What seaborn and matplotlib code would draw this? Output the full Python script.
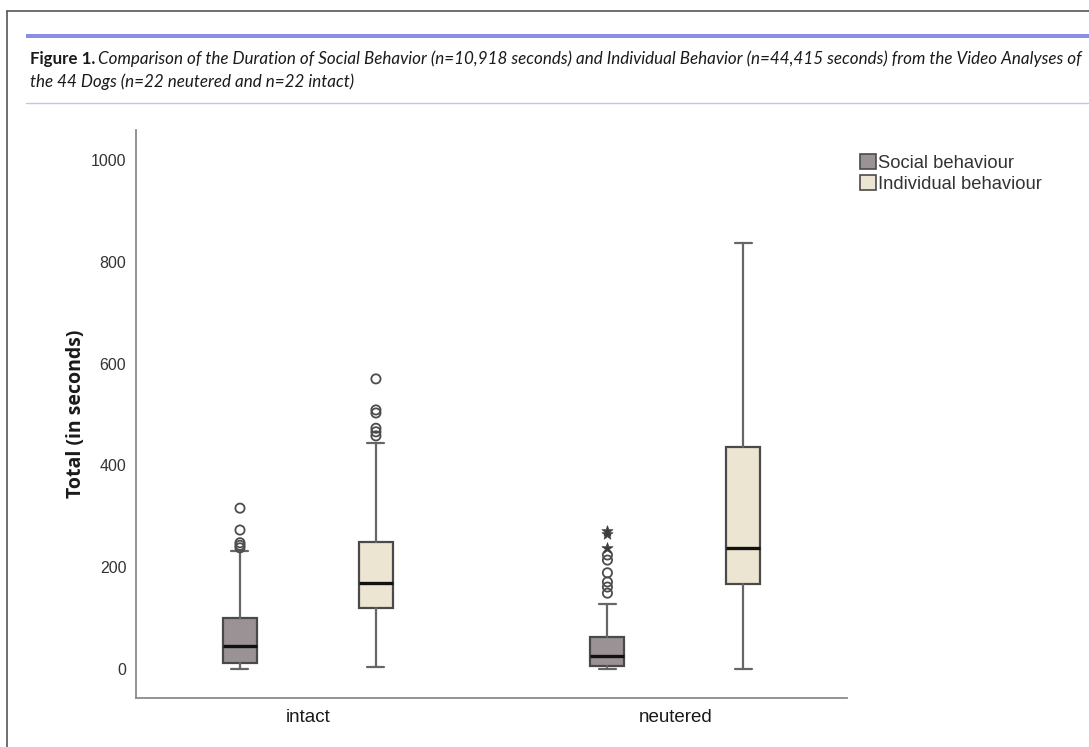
import matplotlib
matplotlib.use("Agg")
import matplotlib.pyplot as plt
from matplotlib.patches import Patch, Rectangle
from matplotlib.lines import Line2D
import pandas as pd
import seaborn as sns

# ---- data (seconds) -------------------------------------------------------
groups = ["intact", "neutered"]
behaviours = ["Social behaviour", "Individual behaviour"]

social_low = [0, 0]
social_q1 = [11, 6]
social_median = [45, 26]
social_q3 = [100, 63]
social_high = [232, 128]
social_outliers = [[238, 243, 248, 273, 316], [149, 161, 171, 189, 214, 224]]
social_extremes = [[], [238, 265, 271]]

individual_low = [4, 0]
individual_q1 = [120, 167]
individual_median = [169, 238]
individual_q3 = [250, 436]
individual_high = [445, 837]
individual_outliers = [[458, 466, 473, 503, 509, 570], []]
individual_extremes = [[], []]

y_ticks = [0, 200, 400, 600, 800, 1000]

caption_bold = "Figure 1."
caption_line1 = ("Comparison of the Duration of Social Behavior (n=10,918 seconds) and "
                 "Individual Behavior (n=44,415 seconds) from the Video Analyses of")
caption_line2 = "the 44 Dogs (n=22 neutered and n=22 intact)"

# ---- style ---------------------------------------------------------------
sns.set_style("white")
plt.rcParams["font.family"] = ["Liberation Sans", "DejaVu Sans"]

W, H = 1089, 747
fig = plt.figure(figsize=(W / 100, H / 100), dpi=100)
fig.patch.set_facecolor("white")


def fx(px):
    return px / W


def fy(py):
    return 1 - py / H


# page frame, accent rule and caption
fig.add_artist(Line2D([fx(7), fx(7)], [fy(11), fy(747)], color="#555555", lw=1.2))
fig.add_artist(Line2D([fx(7), fx(1089)], [fy(11), fy(11)], color="#555555", lw=1.2))
fig.add_artist(Rectangle((fx(26), fy(38)), fx(1089) - fx(26), fy(34) - fy(38),
                         transform=fig.transFigure, color="#8c8ce6", lw=0))
fig.add_artist(Line2D([fx(26), fx(1089)], [fy(103), fy(103)], color="#c4c4ea", lw=1.0))

cap_font = ["Lato", "DejaVu Sans"]
t_bold = fig.text(fx(30), fy(59), caption_bold, fontsize=10, fontweight="bold",
                  family=cap_font, va="center", ha="left", color="#1a1a1a")
t_it1 = fig.text(fx(108), fy(59), caption_line1, fontsize=10, style="italic",
                 family=cap_font, va="center", ha="left", color="#1a1a1a")
fig.canvas.draw()
r = fig.canvas.get_renderer()
w_it = t_it1.get_window_extent(r).width
size = 10 * (1083 - 108) / w_it
t_it1.set_fontsize(size)
t_bold.set_fontsize(size)
fig.canvas.draw()
w_b = t_bold.get_window_extent(r).width
t_it1.set_x(fx(30 + w_b + 3))
w_it = t_it1.get_window_extent(r).width
t_it1.set_fontsize(size * (1083 - (30 + w_b + 3)) / w_it)
fig.text(fx(30), fy(82), caption_line2, fontsize=t_it1.get_fontsize(), style="italic",
         family=cap_font, va="center", ha="left", color="#1a1a1a")

# ---- box plot ------------------------------------------------------------
ax = fig.add_axes([fx(136), fy(698), fx(847) - fx(136), fy(130) - fy(698)])

offset = 0.185
box_w = 0.0925
fills = {"Social behaviour": "#9a9294", "Individual behaviour": "#ece5d1"}

summaries = {
    "Social behaviour": (social_low, social_q1, social_median, social_q3, social_high,
                         social_outliers, social_extremes),
    "Individual behaviour": (individual_low, individual_q1, individual_median,
                             individual_q3, individual_high, individual_outliers,
                             individual_extremes),
}

stats, positions, colours, flier_rows = [], [], [], []
for gi, g in enumerate(groups):
    for bi, b in enumerate(behaviours):
        lo, q1, med, q3, hi, outs, extr = summaries[b]
        pos = gi + (-offset if bi == 0 else offset)
        stats.append(dict(whislo=lo[gi], q1=q1[gi], med=med[gi], q3=q3[gi],
                          whishi=hi[gi], fliers=[]))
        positions.append(pos)
        colours.append(fills[b])
        for v in outs[gi]:
            flier_rows.append(dict(pos=pos, value=v, kind="outlier"))
        for v in extr[gi]:
            flier_rows.append(dict(pos=pos, value=v, kind="extreme"))

edge = "#4a4a4a"
bp = ax.bxp(stats, positions=positions, widths=box_w, capwidths=box_w / 2,
            patch_artist=True, showfliers=False,
            boxprops=dict(edgecolor=edge, linewidth=1.6),
            whiskerprops=dict(color="#666666", linewidth=1.6),
            capprops=dict(color="#666666", linewidth=1.6),
            medianprops=dict(color="#111111", linewidth=2.4))
for patch, c in zip(bp["boxes"], colours):
    patch.set_facecolor(c)

fliers = pd.DataFrame(flier_rows)
sns.scatterplot(data=fliers[fliers["kind"] == "outlier"], x="pos", y="value", ax=ax,
                marker="o", s=44, facecolor="none", edgecolor="#4d4d4d",
                linewidth=1.3, legend=False, zorder=3)
sns.scatterplot(data=fliers[fliers["kind"] == "extreme"], x="pos", y="value", ax=ax,
                marker="*", s=70, color="#3d3d3d", edgecolor="#3d3d3d",
                linewidth=0.5, legend=False, zorder=3)

ax.set_xlim(-0.468, 1.467)
ax.set_ylim(-57, 1059)
ax.set_xticks(range(len(groups)))
ax.set_xticklabels(groups, fontsize=13.5, color="#1a1a1a")
ax.set_yticks(y_ticks)
ax.set_yticklabels([str(t) for t in y_ticks], fontsize=11.5, color="#333333")
ax.tick_params(axis="both", length=0)
ax.tick_params(axis="y", pad=7)
ax.tick_params(axis="x", pad=8)
ax.set_xlabel("")
ax.set_ylabel("Total (in seconds)", fontsize=14, fontweight="bold",
              family=["Open Sans", "DejaVu Sans"], color="#1a1a1a")
ax.yaxis.set_label_coords(-0.071, 0.5)
sns.despine(ax=ax)
for s in ("left", "bottom"):
    ax.spines[s].set_color("#8a8a8a")
    ax.spines[s].set_linewidth(1.3)
ax.grid(False)

handles = [Patch(facecolor=fills[b], edgecolor=edge, linewidth=1.2) for b in behaviours]
fig.legend(handles, behaviours, loc="upper left", bbox_to_anchor=(fx(860), fy(154)),
           frameon=False, fontsize=13.2, handlelength=0.85, handleheight=0.85,
           handletextpad=0.15, labelspacing=0.2, borderpad=0, borderaxespad=0,
           labelcolor="#333333")

fig.savefig("out.png", dpi=100)
